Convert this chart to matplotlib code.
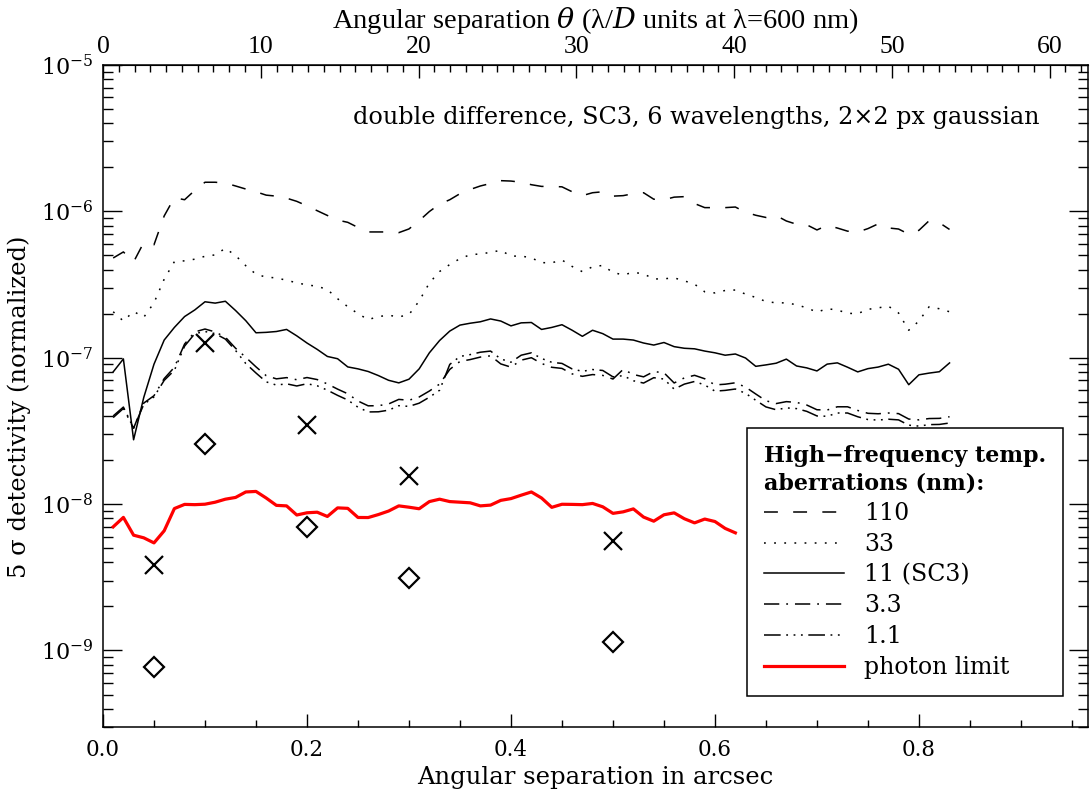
import numpy as np
import matplotlib
matplotlib.use('Agg')
import matplotlib.pyplot as plt
from matplotlib.ticker import LogLocator, MultipleLocator, NullFormatter, FormatStrFormatter

plt.rcParams['font.family'] = ['DejaVu Serif']
plt.rcParams['mathtext.fontset'] = 'dejavuserif'
plt.rcParams['lines.scale_dashes'] = False

# separation grid in arcsec (0.01 ... 0.83)
sep = np.round(np.arange(1, 84) * 0.01, 2)

# 5 sigma detectivity for each aberration level (nm)
det_110 = [4.80e-7, 5.28e-7, 4.51e-7, 6.13e-7, 5.91e-7, 9.30e-7, 1.24e-6, 1.20e-6, 1.39e-6, 1.58e-6,
           1.58e-6, 1.56e-6, 1.49e-6, 1.42e-6, 1.36e-6, 1.29e-6, 1.27e-6, 1.23e-6, 1.17e-6, 1.09e-6,
           1.01e-6, 9.37e-7, 8.71e-7, 8.41e-7, 7.76e-7, 7.23e-7, 7.23e-7, 7.23e-7, 7.15e-7, 7.58e-7,
           8.63e-7, 9.97e-7, 1.12e-6, 1.20e-6, 1.32e-6, 1.41e-6, 1.49e-6, 1.55e-6, 1.62e-6, 1.61e-6,
           1.58e-6, 1.52e-6, 1.48e-6, 1.48e-6, 1.47e-6, 1.36e-6, 1.28e-6, 1.34e-6, 1.36e-6, 1.27e-6,
           1.28e-6, 1.32e-6, 1.34e-6, 1.21e-6, 1.20e-6, 1.25e-6, 1.26e-6, 1.13e-6, 1.06e-6, 1.06e-6,
           1.06e-6, 1.07e-6, 9.86e-7, 9.40e-7, 9.08e-7, 9.36e-7, 8.59e-7, 8.16e-7, 8.09e-7, 7.46e-7,
           8.02e-7, 7.69e-7, 7.32e-7, 7.22e-7, 7.62e-7, 8.21e-7, 7.70e-7, 7.57e-7, 6.98e-7, 7.42e-7,
           8.63e-7, 8.36e-7, 7.52e-7]
det_33 = [2.06e-7, 1.78e-7, 2.07e-7, 1.89e-7, 2.37e-7, 3.44e-7, 4.53e-7, 4.59e-7, 4.71e-7, 4.93e-7,
          5.04e-7, 5.59e-7, 4.99e-7, 4.25e-7, 3.72e-7, 3.55e-7, 3.51e-7, 3.38e-7, 3.25e-7, 3.14e-7,
          3.08e-7, 2.92e-7, 2.53e-7, 2.23e-7, 2.00e-7, 1.82e-7, 1.91e-7, 1.95e-7, 1.90e-7, 1.97e-7,
          2.44e-7, 3.24e-7, 3.88e-7, 4.33e-7, 4.75e-7, 5.05e-7, 5.12e-7, 5.24e-7, 5.42e-7, 4.94e-7,
          4.95e-7, 4.81e-7, 4.46e-7, 4.45e-7, 4.65e-7, 4.20e-7, 3.87e-7, 4.18e-7, 4.27e-7, 3.82e-7,
          3.68e-7, 3.83e-7, 3.74e-7, 3.45e-7, 3.46e-7, 3.51e-7, 3.35e-7, 3.18e-7, 2.82e-7, 2.77e-7,
          2.88e-7, 2.90e-7, 2.72e-7, 2.58e-7, 2.42e-7, 2.37e-7, 2.37e-7, 2.30e-7, 2.19e-7, 2.05e-7,
          2.16e-7, 2.12e-7, 2.01e-7, 2.00e-7, 2.14e-7, 2.19e-7, 2.25e-7, 2.02e-7, 1.54e-7, 1.78e-7,
          2.23e-7, 2.16e-7, 2.06e-7]
det_11 = [8.00e-8, 9.81e-8, 2.75e-8, 5.36e-8, 9.03e-8, 1.32e-7, 1.61e-7, 1.91e-7, 2.12e-7, 2.41e-7,
          2.36e-7, 2.43e-7, 2.10e-7, 1.79e-7, 1.48e-7, 1.49e-7, 1.51e-7, 1.56e-7, 1.41e-7, 1.26e-7,
          1.14e-7, 1.02e-7, 9.84e-8, 8.65e-8, 8.39e-8, 8.05e-8, 7.55e-8, 7.01e-8, 6.73e-8, 7.13e-8,
          8.39e-8, 1.08e-7, 1.31e-7, 1.52e-7, 1.67e-7, 1.72e-7, 1.76e-7, 1.84e-7, 1.78e-7, 1.65e-7,
          1.73e-7, 1.74e-7, 1.56e-7, 1.61e-7, 1.68e-7, 1.54e-7, 1.40e-7, 1.54e-7, 1.46e-7, 1.34e-7,
          1.34e-7, 1.32e-7, 1.26e-7, 1.22e-7, 1.27e-7, 1.19e-7, 1.16e-7, 1.15e-7, 1.11e-7, 1.08e-7,
          1.04e-7, 1.06e-7, 9.95e-8, 8.73e-8, 8.93e-8, 9.17e-8, 9.78e-8, 8.78e-8, 8.52e-8, 8.12e-8,
          9.04e-8, 9.22e-8, 8.61e-8, 8.00e-8, 8.42e-8, 8.63e-8, 9.03e-8, 8.34e-8, 6.54e-8, 7.64e-8,
          7.85e-8, 8.02e-8, 9.21e-8]
det_3p3 = [3.9e-8, 4.5e-8, 3.3e-8, 4.9e-8, 5.5e-8, 7.2e-8, 8.6e-8, 1.24e-7, 1.50e-7, 1.57e-7,
           1.50e-7, 1.38e-7, 1.16e-7, 1.006e-7, 8.66e-8, 7.54e-8, 7.17e-8, 7.31e-8, 7.07e-8, 7.32e-8,
           7.09e-8, 6.62e-8, 6.10e-8, 5.67e-8, 5.06e-8, 4.69e-8, 4.70e-8, 4.83e-8, 5.19e-8, 5.12e-8,
           5.39e-8, 5.92e-8, 6.60e-8, 8.32e-8, 9.43e-8, 9.71e-8, 1.01e-7, 1.03e-7, 9.07e-8, 8.62e-8,
           9.62e-8, 1.00e-7, 9.13e-8, 8.60e-8, 8.45e-8, 7.75e-8, 7.46e-8, 7.67e-8, 7.57e-8, 7.15e-8,
           8.32e-8, 7.68e-8, 7.40e-8, 8.04e-8, 7.89e-8, 6.72e-8, 7.28e-8, 7.58e-8, 7.18e-8, 6.52e-8,
           6.59e-8, 6.74e-8, 6.30e-8, 5.65e-8, 5.08e-8, 4.86e-8, 5.01e-8, 4.95e-8, 4.75e-8, 4.41e-8,
           4.39e-8, 4.62e-8, 4.62e-8, 4.36e-8, 4.17e-8, 4.14e-8, 4.19e-8, 4.15e-8, 3.81e-8, 3.76e-8,
           3.84e-8, 3.85e-8, 3.95e-8]
det_1p1 = [4.0e-8, 4.6e-8, 3.3e-8, 4.8e-8, 5.4e-8, 7.0e-8, 8.2e-8, 1.20e-7, 1.46e-7, 1.51e-7,
           1.46e-7, 1.34e-7, 1.12e-7, 9.12e-8, 7.86e-8, 6.84e-8, 6.50e-8, 6.63e-8, 6.41e-8, 6.64e-8,
           6.43e-8, 6.00e-8, 5.53e-8, 5.14e-8, 4.59e-8, 4.26e-8, 4.27e-8, 4.38e-8, 4.70e-8, 4.65e-8,
           4.89e-8, 5.37e-8, 5.99e-8, 9.00e-8, 1.02e-7, 1.05e-7, 1.09e-7, 1.11e-7, 9.81e-8, 9.32e-8,
           1.04e-7, 1.08e-7, 9.88e-8, 9.30e-8, 9.14e-8, 8.38e-8, 8.07e-8, 8.30e-8, 8.18e-8, 7.40e-8,
           7.54e-8, 6.96e-8, 6.71e-8, 7.30e-8, 7.15e-8, 6.10e-8, 6.60e-8, 6.88e-8, 6.51e-8, 5.91e-8,
           5.98e-8, 6.11e-8, 5.71e-8, 5.12e-8, 4.61e-8, 4.41e-8, 4.54e-8, 4.49e-8, 4.30e-8, 4.00e-8,
           3.98e-8, 4.19e-8, 4.19e-8, 3.95e-8, 3.78e-8, 3.75e-8, 3.80e-8, 3.76e-8, 3.46e-8, 3.41e-8,
           3.49e-8, 3.50e-8, 3.58e-8]
# photon limit (visible part, the rest is behind the legend)
photon = [6.99e-9, 8.11e-9, 6.13e-9, 5.88e-9, 5.43e-9, 6.57e-9, 9.32e-9, 9.95e-9, 9.91e-9, 9.98e-9,
          1.03e-8, 1.08e-8, 1.11e-8, 1.21e-8, 1.22e-8, 1.10e-8, 9.80e-9, 9.72e-9, 8.42e-9, 8.72e-9,
          8.80e-9, 8.23e-9, 9.42e-9, 9.35e-9, 8.10e-9, 8.09e-9, 8.48e-9, 8.96e-9, 9.72e-9, 9.52e-9,
          9.29e-9, 1.04e-8, 1.08e-8, 1.04e-8, 1.03e-8, 1.02e-8, 9.72e-9, 9.84e-9, 1.06e-8, 1.09e-8,
          1.15e-8, 1.21e-8, 1.10e-8, 9.50e-9, 9.97e-9, 9.95e-9, 9.91e-9, 1.01e-8, 9.58e-9, 8.64e-9,
          8.85e-9, 9.27e-9, 8.15e-9, 7.64e-9, 8.45e-9, 8.71e-9, 7.94e-9, 7.44e-9, 7.90e-9, 7.60e-9,
          6.82e-9, 6.36e-9]

# point measurements
pt_sep = [0.05, 0.1, 0.2, 0.3, 0.5]
cross_det = [3.85e-9, 1.26e-7, 3.48e-8, 1.56e-8, 5.6e-9]
diamond_det = [7.7e-10, 2.58e-8, 6.98e-9, 3.13e-9, 1.15e-9]

labels = ['110', '33', '11 (SC3)', '3.3', '1.1', 'photon limit']
lod_arcsec = 0.01547  # lambda/D at 600 nm for an 8 m telescope

fig = plt.figure(figsize=(10.91, 7.96), dpi=100)
ax = fig.add_axes([0.0944, 0.0867, 0.9028, 0.8317])

lw = 1.1
h1, = ax.plot(sep, det_110, color='k', lw=lw, dashes=(10, 11))
h2, = ax.plot(sep, det_33, color='k', lw=lw, dashes=(1.3, 6))
h3, = ax.plot(sep, det_11, color='k', lw=lw)
h4, = ax.plot(sep, det_3p3, color='k', lw=lw, dashes=(11, 5, 1.3, 5))
h5, = ax.plot(sep, det_1p1, color='k', lw=lw, dashes=(12, 4, 1.3, 4, 1.3, 4, 1.3, 4))
h6, = ax.plot(sep[:len(photon)], photon, color='red', lw=2.3)

ax.plot(pt_sep, cross_det, ls='none', marker='x', ms=13, mew=1.6, color='k')
ax.plot(pt_sep, diamond_det, ls='none', marker='D', ms=10, mew=1.6, mfc='none', mec='k')

ax.set_yscale('log')
ax.set_xlim(0, 0.9657)
ax.set_ylim(3.0e-10, 1e-5)

ax.xaxis.set_major_locator(MultipleLocator(0.2))
ax.xaxis.set_minor_locator(MultipleLocator(0.05))
ax.xaxis.set_major_formatter(FormatStrFormatter('%.1f'))
ax.yaxis.set_major_locator(LogLocator(base=10, numticks=20))
ax.yaxis.set_minor_locator(LogLocator(base=10, subs=np.arange(2, 10), numticks=20))
ax.yaxis.set_minor_formatter(NullFormatter())

ax.tick_params(axis='x', which='major', direction='in', length=9.5, width=1, top=False, pad=9, labelsize=15.5)
ax.tick_params(axis='x', which='minor', direction='in', length=5, width=1, top=False)
ax.tick_params(axis='y', which='major', direction='in', length=14, width=1, right=True, pad=7, labelsize=16)
ax.tick_params(axis='y', which='minor', direction='in', length=7, width=1, right=True)
for s in ax.spines.values():
    s.set_linewidth(1.1)

secax = ax.secondary_xaxis('top', functions=(lambda a: a / lod_arcsec, lambda t: t * lod_arcsec))
secax.xaxis.set_major_locator(MultipleLocator(10))
secax.xaxis.set_minor_locator(MultipleLocator(1))
secax.tick_params(axis='x', which='major', direction='in', length=9.5, width=1, pad=5, labelsize=18.5)
secax.tick_params(axis='x', which='minor', direction='in', length=5, width=1)
for t in secax.get_xticklabels():
    t.set_family('Liberation Serif')
secax.set_xlabel('Angular separation $\\theta$ (λ/$D$ units at λ=600 nm)',
                 fontsize=20.5, family='Liberation Serif', labelpad=6)

ax.set_xlabel('Angular separation in arcsec', fontsize=17.5, labelpad=3)
ax.set_ylabel('5 σ detectivity (normalized)', fontsize=17.5)
ax.yaxis.set_label_coords(-0.073, 0.483)

ax.text(0.951, 0.921, 'double difference, SC3, 6 wavelengths, 2×2 px gaussian',
        transform=ax.transAxes, ha='right', va='center', fontsize=17.2)

leg = ax.legend([h1, h2, h3, h4, h5, h6], labels,
                title='High−frequency temp.\naberrations (nm):',
                title_fontproperties={'weight': 'bold', 'size': 16},
                alignment='left', loc='lower right', bbox_to_anchor=(0.9746, 0.0468),
                borderaxespad=0, fontsize=17, handlelength=3.4, handletextpad=0.85,
                labelspacing=0.33, borderpad=0.72, fancybox=False, framealpha=1,
                edgecolor='k')
leg.get_title().set_linespacing(1.3)
leg.get_frame().set_linewidth(1.1)

fig.savefig('out.png', dpi=100)
